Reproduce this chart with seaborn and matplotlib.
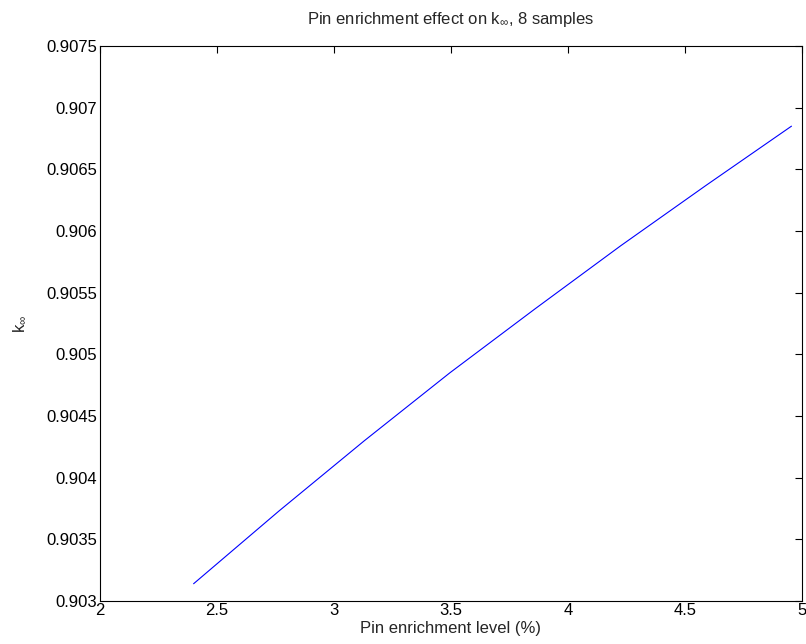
import matplotlib
matplotlib.use("Agg")
import matplotlib.pyplot as plt
import seaborn as sns
import pandas as pd

enrichment = [2.40, 2.765, 3.13, 3.495, 3.86, 4.225, 4.59, 4.955]
k_inf = [0.90314, 0.90373, 0.90430, 0.90485, 0.90537, 0.90588, 0.90637, 0.90685]
xticks = [2, 2.5, 3, 3.5, 4, 4.5, 5]
yticks = [0.903, 0.9035, 0.904, 0.9045, 0.905, 0.9055, 0.906, 0.9065, 0.907, 0.9075]
ytick_labels = ["0.903", "0.9035", "0.904", "0.9045", "0.905", "0.9055", "0.906", "0.9065", "0.907", "0.9075"]

sns.set_style("white")
plt.rcParams["font.family"] = ["Liberation Sans", "DejaVu Sans"]
plt.rcParams["mathtext.fontset"] = "custom"
plt.rcParams["mathtext.rm"] = "Liberation Sans"
plt.rcParams["mathtext.it"] = "Liberation Sans"

df = pd.DataFrame({"x": enrichment, "y": k_inf})

fig = plt.figure(figsize=(8.06, 6.44), dpi=100)
ax = fig.add_axes([100/806, 1-601/644, 702/806, 555/644])
sns.lineplot(data=df, x="x", y="y", ax=ax, color=(0, 0, 1), linewidth=0.8)

ax.set_xlim(2, 5)
ax.set_ylim(0.903, 0.9075)
ax.set_xticks(xticks)
ax.set_xticklabels([f"{t:g}" for t in xticks])
ax.set_yticks(yticks)
ax.set_yticklabels(ytick_labels)
ax.tick_params(direction="in", length=5, width=0.8, top=True, right=True,
               labelsize=12, colors="black")
ax.tick_params(axis="x", pad=1.5)
ax.tick_params(axis="y", pad=2)
for s in ax.spines.values():
    s.set_visible(True)
    s.set_color("black")
    s.set_linewidth(0.8)

ax.set_xlabel("Pin enrichment level (%)", fontsize=12, labelpad=2)
ax.set_ylabel(r"k$_{\infty}$", fontsize=12, labelpad=13)
ax.set_title(r"Pin enrichment effect on k$_{\infty}$, 8 samples", fontsize=12, pad=16)

fig.savefig("out.png", dpi=100)
